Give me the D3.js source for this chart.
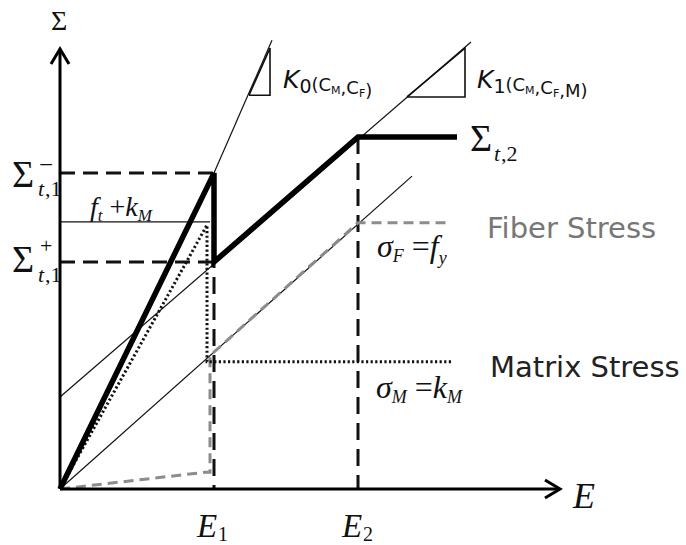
<!DOCTYPE html>
<html>
<head>
<meta charset="utf-8">
<title>stress strain</title>
<script src="https://d3js.org/d3.v7.min.js"></script>
<style>
  body { margin: 0; background: #fff; }
  text { fill: #111; }
  .serif { font-family: "Liberation Serif", "Times New Roman", serif; }
  .sans { font-family: "DejaVu Sans", Verdana, sans-serif; }
</style>
</head>
<body>
<script>
// schematic values (arbitrary units)
var E1 = 3.08, E2 = 5.96;
var sigT1Minus = 7.18, sigT1Plus = 5.16, ftPlusKm = 6.07, sigT2 = 8.0;

var composite = [[0, 0], [E1, sigT1Minus], [E1, sigT1Plus], [E2, sigT2], [7.94, sigT2]];
var fiberStress = [[0, 0], [2.9, 0.38], [3.0, 0.38], [3.0, 3.03], [E2, 6.05], [7.76, 6.05]];
var matrixStress = [[0, 0], [2.94, 6.0], [2.94, 2.89], [7.86, 2.89]];
var k0Line = [[E1, sigT1Minus], [4.24, 10.2]];
var k1Line = [[0, 2.09], [8.22, 10.16]];
var elasticLine = [[0, 0], [7.04, 7.11]];
var k0Tri = [[3.78, 8.95], [4.2, 8.95], [4.2, 10.02], [3.78, 8.95]];
var k1Tri = [[6.94, 8.91], [8.1, 8.91], [8.1, 10.02], [6.94, 8.91]];
var ftLine = [[0, ftPlusKm], [3.0, ftPlusKm]];

var width = 686, height = 545;

var svg = d3.select("body").append("svg")
    .attr("width", width)
    .attr("height", height);

var x = d3.scaleLinear().domain([0, 10]).range([60, 560]);
var y = d3.scaleLinear().domain([0, 10]).range([489, 49]);

var line = d3.line().x(function(d) { return x(d[0]); }).y(function(d) { return y(d[1]); });

function draw(data, stroke, w, dash) {
  svg.append("path")
    .attr("d", line(data))
    .attr("fill", "none")
    .attr("stroke", stroke)
    .attr("stroke-width", w)
    .attr("stroke-dasharray", dash || null)
    .attr("stroke-linejoin", "miter");
}

// thin guide lines
draw(k0Line, "#111", 1.2);
draw(k1Line, "#111", 1.2);
draw(elasticLine, "#111", 1.2);
draw(ftLine, "#111", 1.2);
draw(k0Tri, "#111", 1.6);
draw(k1Tri, "#111", 1.6);

// dashed reference lines
draw([[0, sigT1Minus], [E1, sigT1Minus]], "#111", 3, "15,8");
draw([[0, sigT1Plus], [E1, sigT1Plus]], "#111", 3, "15,8");
draw([[E1, sigT1Minus], [E1, 0]], "#111", 3, "17,9");
draw([[E2, sigT2], [E2, 0]], "#111", 3, "17,9");

// fibre and matrix stress
draw(fiberStress, "#8c8c8c", 3, "10,6");
draw(matrixStress, "#111", 3, "2.2,2.4");

// composite response
draw(composite, "#000", 5.5);

// axes
draw([[0, 0], [10, 0]], "#000", 3);
draw([[0, 0], [0, 10]], "#000", 3);
svg.append("path")
  .attr("d", "M" + (x(10) - 15) + "," + (y(0) - 9) + "L" + x(10) + "," + y(0) + "L" + (x(10) - 15) + "," + (y(0) + 9))
  .attr("fill", "none").attr("stroke", "#000").attr("stroke-width", 3);
svg.append("path")
  .attr("d", "M" + (x(0) - 9) + "," + (y(10) + 15) + "L" + x(0) + "," + y(10) + "L" + (x(0) + 9) + "," + (y(10) + 15))
  .attr("fill", "none").attr("stroke", "#000").attr("stroke-width", 3);

// labels
function txt(cls, px, py, size, str, style) {
  return svg.append("text").attr("class", cls)
    .attr("x", px).attr("y", py)
    .style("font-size", size + "px")
    .style("font-style", style || "normal")
    .text(str);
}

txt("serif", 51, 30, 28, "Σ");
txt("serif", 573, 508, 36, "E", "italic");

txt("serif", 197, 537, 33, "E", "italic");
txt("serif", 218, 541, 20, "1");
txt("serif", 342, 537, 33, "E", "italic");
txt("serif", 363, 541, 20, "2");

// Sigma t,1 minus / plus
txt("serif", 12, 187, 38, "Σ");
txt("serif", 39, 173, 25, "−");
txt("serif", 38, 196, 22, "t", "italic");
txt("serif", 45, 196, 22, ",1");

txt("serif", 12, 272, 38, "Σ");
txt("serif", 40, 253, 22, "+");
txt("serif", 38, 282, 22, "t", "italic");
txt("serif", 45, 282, 22, ",1");

// Sigma t,2
txt("serif", 470, 151, 38, "Σ");
txt("serif", 494, 161, 22, "t", "italic");
txt("serif", 501, 161, 22, ",2");

// f_t + k_M
var ft = svg.append("text").attr("class", "serif").attr("x", 90).attr("y", 216).style("font-size", "28px");
ft.append("tspan").style("font-style", "italic").text("f");
ft.append("tspan").style("font-style", "italic").style("font-size", "17px").attr("dy", 5).text("t");
ft.append("tspan").attr("dy", -5).text(" +");
ft.append("tspan").style("font-style", "italic").text("k");
ft.append("tspan").style("font-style", "italic").style("font-size", "17px").attr("dy", 5).text("M");

// sigma_F = f_y
var sf = svg.append("text").attr("class", "serif").attr("x", 377).attr("y", 257).style("font-size", "32px");
sf.append("tspan").style("font-style", "italic").text("σ");
sf.append("tspan").style("font-style", "italic").style("font-size", "18px").attr("dy", 5).text("F");
sf.append("tspan").attr("dy", -5).text(" =");
sf.append("tspan").style("font-style", "italic").text("f");
sf.append("tspan").style("font-style", "italic").style("font-size", "18px").attr("dy", 7).text("y");

// sigma_M = k_M
var sm = svg.append("text").attr("class", "serif").attr("x", 376).attr("y", 398).style("font-size", "32px");
sm.append("tspan").style("font-style", "italic").text("σ");
sm.append("tspan").style("font-style", "italic").style("font-size", "18px").attr("dy", 5).text("M");
sm.append("tspan").attr("dy", -5).text(" =");
sm.append("tspan").style("font-style", "italic").text("k");
sm.append("tspan").style("font-style", "italic").style("font-size", "18px").attr("dy", 5).text("M");

// stiffness labels
function kLabel(px, idx, args) {
  var t = svg.append("text").attr("class", "sans").attr("x", px).attr("y", 88).style("font-size", "25px");
  t.append("tspan").style("font-style", "italic").text("K");
  t.append("tspan").style("font-size", "19px").attr("dy", 5).text(idx);
  t.append("tspan").style("font-size", "18px").attr("dy", -2).text("(");
  args.forEach(function(a, i) {
    if (i > 0) t.append("tspan").style("font-size", "18px").text(",");
    t.append("tspan").style("font-size", "18px").text(a[0]);
    if (a[1]) {
      t.append("tspan").style("font-size", "11px").attr("dy", 3).text(a[1]);
      t.append("tspan").style("font-size", "18px").attr("dy", -3).text("");
    }
  });
  t.append("tspan").style("font-size", "18px").text(")");
}
kLabel(283, "0", [["C", "M"], ["C", "F"]]);
kLabel(477, "1", [["C", "M"], ["C", "F"], ["M", ""]]);

txt("sans", 487, 238, 29, "Fiber Stress").style("fill", "#777");
txt("sans", 490, 377, 29, "Matrix Stress").style("fill", "#222");
</script>
</body>
</html>
